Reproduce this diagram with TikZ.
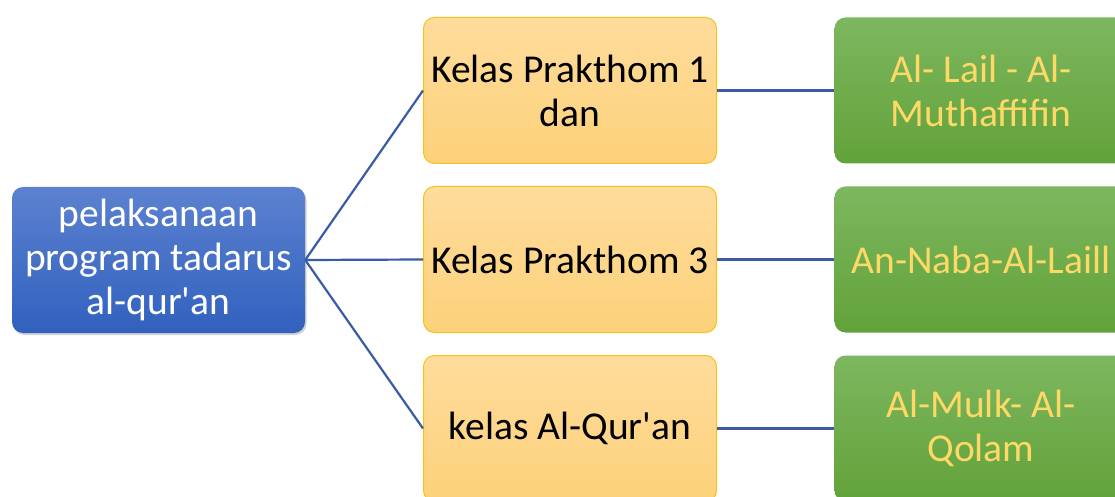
\documentclass[tikz,border=0pt]{standalone}
\usepackage{fontspec}
\setmainfont{Carlito}[Ligatures=TeXOff]
\usetikzlibrary{shadows}
\definecolor{bluetop}{HTML}{5C81D0}
\definecolor{bluebot}{HTML}{3161BE}
\definecolor{orgtop}{HTML}{FEDC9C}
\definecolor{orgbot}{HTML}{FDD17A}
\definecolor{orgline}{HTML}{F8C11A}
\definecolor{grntop}{HTML}{7DB75F}
\definecolor{grnbot}{HTML}{62A23A}
\definecolor{grntext}{HTML}{FFD966}
\definecolor{conn}{HTML}{3A5CA6}
\tikzset{
  box/.style={rounded corners=11pt, minimum width=293pt, minimum height=146pt, align=center, font=\fontsize{39.5}{44}\selectfont, inner sep=0pt},
  rootbox/.style={box, top color=bluetop, bottom color=bluebot, draw=none, text=white, drop shadow={opacity=0.35, shadow xshift=1.5pt, shadow yshift=-2pt}},
  midbox/.style={box, top color=orgtop, bottom color=orgbot, draw=orgline, line width=1pt, text=black},
  leafbox/.style={box, top color=grntop, bottom color=grnbot, draw=none, text=grntext},
  link/.style={draw=conn, line width=2.2pt}
}
\begin{document}
\begin{tikzpicture}[x=1pt,y=1pt]
\useasboundingbox (0,0) rectangle (1115,496);
\clip (0,0) rectangle (1115,496);
\fill[white] (0,0) rectangle (1115,496);
\node[rootbox] (root) at (158.5,236) {pelaksanaan\\program tadarus\\al-qur'an};
\node[midbox] (m1) at (570,405.5) {Kelas Prakthom 1\\dan};
\node[midbox] (m2) at (570,236.5) {Kelas Prakthom 3};
\node[midbox] (m3) at (570,67.5) {kelas Al-Qur'an};
\node[leafbox] (l1) at (981,405.5) {Al- Lail - Al-\\Muthaffifin};
\node[leafbox] (l2) at (981,236.5) {An-Naba-Al-Laill};
\node[leafbox] (l3) at (981,67.5) {Al-Mulk- Al-\\Qolam};
\draw[link] (root.east) -- (m1.west);
\draw[link] (root.east) -- (m2.west);
\draw[link] (root.east) -- (m3.west);
\draw[link] (m1.east) -- (l1.west);
\draw[link] (m2.east) -- (l2.west);
\draw[link] (m3.east) -- (l3.west);
\end{tikzpicture}
\end{document}
